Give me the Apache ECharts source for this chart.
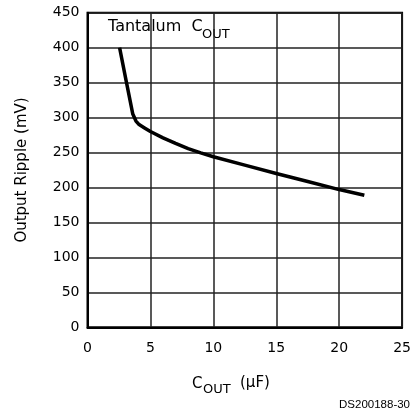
<!DOCTYPE html>
<html>
<head>
<meta charset="utf-8">
<script src="https://cdn.jsdelivr.net/npm/echarts@6/dist/echarts.min.js"></script>
<style>html,body{margin:0;padding:0;background:#fff;}#c{width:414px;height:416px;}</style>
</head>
<body>
<div id="c"></div>
<script>
const capUF = [2.55, 3.1, 3.6, 3.85, 4.1, 4.5, 5.0, 6.0, 7.0, 8.0, 9.0, 10, 12.5, 15, 17.5, 20, 22];
const rippleMV = [400, 350, 305, 295, 290, 285.5, 280, 271, 263, 255.5, 249.5, 244, 232, 220, 208.5, 197, 189];
const xTicks = [0, 5, 10, 15, 20, 25];
const yTicks = [0, 50, 100, 150, 200, 250, 300, 350, 400, 450];

const FONT = 'DejaVu Sans';
const chart = echarts.init(document.getElementById('c'), null, {renderer: 'canvas'});
chart.setOption({
  animation: false,
  backgroundColor: '#fff',
  grid: {left: 87.5, right: 11.5, top: 12.7, bottom: 88.7, show: true, borderColor: '#000', borderWidth: 2, backgroundColor: 'transparent'},
  xAxis: {
    type: 'value', min: xTicks[0], max: xTicks[xTicks.length - 1], interval: 5,
    axisLine: {show: true, lineStyle: {color: '#000', width: 2}},
    axisTick: {show: false},
    splitLine: {show: true, lineStyle: {color: '#222', width: 1.5}},
    axisLabel: {color: '#000', fontFamily: FONT, fontSize: 14, margin: 14}
  },
  yAxis: {
    type: 'value', min: yTicks[0], max: yTicks[yTicks.length - 1], interval: 50,
    name: 'Output Ripple (mV)', nameLocation: 'middle', nameGap: 58, nameRotate: 90,
    nameTextStyle: {color: '#000', fontFamily: FONT, fontSize: 15},
    axisLine: {show: true, lineStyle: {color: '#000', width: 2}},
    axisTick: {show: false},
    splitLine: {show: true, lineStyle: {color: '#222', width: 1.5}},
    axisLabel: {color: '#000', fontFamily: FONT, fontSize: 14, margin: 8}
  },
  series: [{
    type: 'line',
    data: capUF.map((x, i) => [x, rippleMV[i]]),
    smooth: false,
    showSymbol: false,
    lineStyle: {color: '#000', width: 3.5, join: 'round', cap: 'butt'},
    z: 5
  }],
  graphic: [
    {type: 'text', left: 108, top: 19, style: {text: 'Tantalum  C', font: '16px "DejaVu Sans"', fill: '#000'}},
    {type: 'text', left: 202, top: 28, style: {text: 'OUT', font: '13px "DejaVu Sans"', fill: '#000'}},
    {type: 'text', left: 192, top: 377, style: {text: 'C', font: '15px "DejaVu Sans"', fill: '#000'}},
    {type: 'text', left: 203, top: 383, style: {text: 'OUT', font: '13px "DejaVu Sans"', fill: '#000'}},
    {type: 'text', left: 240, top: 376, style: {text: '(\u03bcF)', font: '15px "DejaVu Sans"', fill: '#000'}},
    {type: 'text', right: 4, top: 399, style: {text: 'DS200188-30', font: '11.5px "Liberation Sans"', fill: '#000'}}
  ]
});
</script>
</body>
</html>
